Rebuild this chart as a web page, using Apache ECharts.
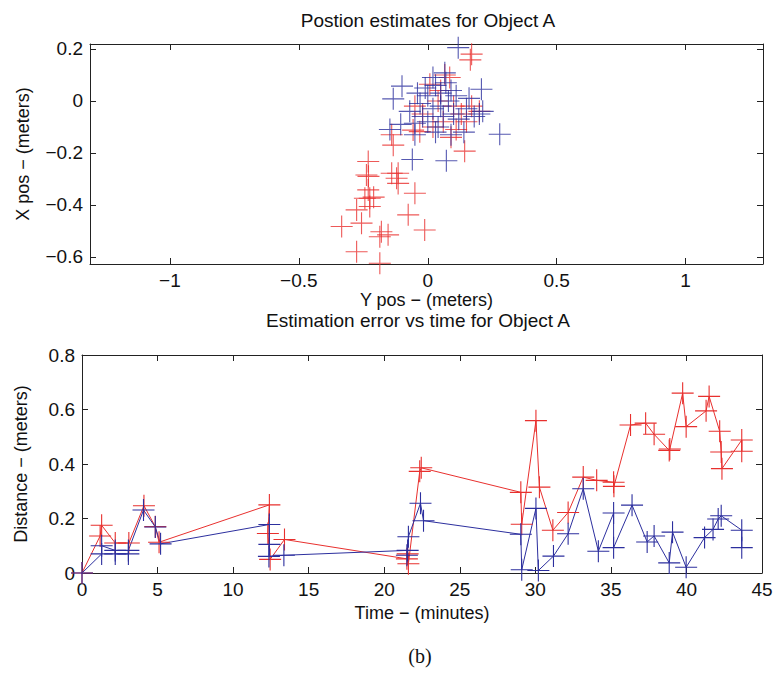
<!DOCTYPE html>
<html>
<head>
<meta charset="utf-8">
<script src="https://cdn.jsdelivr.net/npm/echarts@6/dist/echarts.min.js"></script>
<style>
html, body { margin: 0; background: #fff; }
#main { width: 775px; height: 677px; }
</style>
</head>
<body>
<div id="main"></div>
<script>
// position estimates [Y pos, X pos]
const redPos = [
    [0.17, 0.18], [0.165, 0.158], [0.066, 0.10], [0.085, 0.09], [0.008, 0.064], [0.2, -0.04],
    [0.143, -0.193], [-0.231, -0.233], [-0.14, -0.13], [-0.134, -0.17], [-0.057, -0.112], [-0.031, -0.118],
    [-0.14, -0.278], [-0.115, -0.278], [-0.121, -0.297], [-0.115, -0.317], [-0.05, -0.355], [-0.231, -0.342],
    [-0.225, -0.374], [-0.244, -0.374], [-0.225, -0.406], [-0.276, -0.419], [-0.076, -0.438], [-0.334, -0.483],
    [-0.257, -0.47], [-0.012, -0.496], [-0.18, -0.503], [-0.154, -0.515], [-0.186, -0.522], [-0.276, -0.58],
    [-0.186, -0.624], [-0.238, -0.285], [0.04, 0.0], [0.1, -0.02], [0.06, -0.08], [0.13, -0.05],
    [-0.02, -0.05], [0.02, -0.1], [0.11, -0.11], [0.15, -0.08], [0.05, 0.04], [-0.05, -0.02],
    [0.09, -0.14], [0.17, -0.02], [-0.23, -0.29], [-0.21, -0.37]
];
const bluePos = [
    [0.118, 0.205], [-0.10, 0.057], [-0.134, 0.008], [0.208, 0.045], [0.213, -0.04], [0.279, -0.128],
    [0.072, -0.23], [-0.06, -0.225], [-0.147, -0.11], [-0.105, -0.09], [-0.05, -0.086], [0.066, 0.108],
    [0.03, 0.06], [0.0, 0.02], [-0.03, -0.01], [0.02, -0.03], [0.05, -0.02], [0.08, 0.0],
    [0.1, -0.05], [0.06, -0.06], [-0.02, -0.06], [0.0, -0.08], [0.04, -0.1], [0.12, -0.07],
    [0.15, -0.03], [0.09, 0.04], [-0.04, 0.03], [-0.07, -0.04], [0.03, -0.12], [0.14, -0.12],
    [0.18, -0.06], [0.11, 0.02], [0.07, 0.07], [-0.01, 0.05], [0.05, 0.03], [-0.05, -0.13],
    [0.09, -0.13], [0.2, -0.05], [0.16, 0.01], [0.02, 0.09]
];

// estimation error [minutes, meters]
const redErr = [
    [0, 0], [1.2, 0.136], [1.3, 0.175], [2.2, 0.11], [3.1, 0.11], [4.1, 0.247], [4.85, 0.17], [5.1, 0.113],
    [12.4, 0.25], [12.3, 0.145], [12.45, 0.05], [13.4, 0.123], [21.5, 0.052], [21.55, 0.07], [21.6, 0.034],
    [22.35, 0.373], [22.45, 0.386], [29.04, 0.296], [29.1, 0.179], [30.04, 0.559], [30.27, 0.315],
    [31.16, 0.157], [32.17, 0.222], [33.17, 0.352], [34.06, 0.34], [35.18, 0.333], [35.2, 0.318],
    [36.3, 0.543], [37.3, 0.55], [37.86, 0.509], [38.86, 0.45], [38.9, 0.455], [39.75, 0.66],
    [39.98, 0.537], [41.3, 0.595], [41.5, 0.648], [42.2, 0.52], [42.3, 0.444], [42.35, 0.383],
    [43.66, 0.488], [43.66, 0.447]
];
const blueErr = [
    [0, 0], [1.3, 0.07], [1.3, 0.10], [2.2, 0.083], [2.2, 0.07], [3.07, 0.07], [3.07, 0.083], [4.07, 0.231],
    [4.85, 0.169], [5.2, 0.107], [12.4, 0.178], [12.4, 0.105], [12.37, 0.061], [13.36, 0.065], [21.55, 0.083],
    [21.5, 0.065], [21.6, 0.133], [22.4, 0.256], [22.6, 0.192], [29.04, 0.142], [29.1, 0.012], [30.04, 0.237],
    [30.2, 0.009], [31.2, 0.062], [32.17, 0.144], [33.17, 0.309], [34.17, 0.08], [35.18, 0.22], [35.18, 0.093],
    [36.4, 0.249], [37.4, 0.114], [37.86, 0.136], [38.86, 0.037], [39.08, 0.15], [39.98, 0.021], [41.2, 0.13],
    [41.76, 0.16], [42.1, 0.198], [42.3, 0.21], [43.66, 0.157], [43.66, 0.093]
];

const posXTicks = [-1, -0.5, 0, 0.5, 1];
const posYTicks = [-0.6, -0.4, -0.2, 0, 0.2];

const RED = '#e8302e';
const BLUE = '#2c2f9e';
const FONT = 'Liberation Sans';
// thin "+" marker
const plus = 'path://M0,11.4 L24,11.4 L24,12.6 L0,12.6 Z M11.4,0 L12.6,0 L12.6,24 L11.4,24 Z';

const minus = v => String(v).replace('-', '\u2212');

function axis(gridIndex, position, min, max, ticks, interval, name, nameGap) {
    const a = {
        type: 'value',
        gridIndex,
        position,
        min,
        max,
        axisLine: { show: true, onZero: false, lineStyle: { color: '#222', width: 1 } },
        axisTick: { show: true, inside: true, length: 6, lineStyle: { color: '#222' } },
        axisLabel: { show: !!name, margin: 7, color: '#111', fontFamily: FONT, fontSize: 19, formatter: minus },
        splitLine: { show: false }
    };
    if (ticks) {
        a.axisTick.customValues = ticks;
        a.axisLabel.customValues = ticks;
    } else {
        a.interval = interval;
    }
    if (name) {
        a.name = name;
        a.nameLocation = 'middle';
        a.nameGap = nameGap;
        a.nameTextStyle = { color: '#111', fontFamily: FONT, fontSize: 18 };
    }
    return a;
}

const myChart = echarts.init(document.getElementById('main'), null, { renderer: 'svg' });
myChart.setOption({
    animation: false,
    backgroundColor: '#fff',
    grid: [
        { left: 90, top: 44, width: 673, height: 220, outerBoundsMode: 'none' },
        { left: 82, top: 355, width: 680, height: 218, outerBoundsMode: 'none' }
    ],
    graphic: [
        { type: 'text', x: 428, y: 20, style: { text: 'Postion estimates for Object A', fill: '#111', font: '19px "Liberation Sans"', textAlign: 'center', textVerticalAlign: 'middle' } },
        { type: 'text', x: 418, y: 320, style: { text: 'Estimation error vs time for Object A', fill: '#111', font: '19px "Liberation Sans"', textAlign: 'center', textVerticalAlign: 'middle' } },
        { type: 'text', x: 420, y: 656, style: { text: '(b)', fill: '#111', font: '20px "Liberation Serif"', textAlign: 'center', textVerticalAlign: 'middle' } }
    ],
    xAxis: [
        axis(0, 'bottom', -1.31, 1.30, posXTicks, null, 'Y pos \u2212 (meters)', 25),
        axis(0, 'top', -1.31, 1.30, posXTicks, null),
        axis(1, 'bottom', 0, 45, null, 5, 'Time \u2212 (minutes)', 31),
        axis(1, 'top', 0, 45, null, 5)
    ],
    yAxis: [
        axis(0, 'left', -0.627, 0.219, posYTicks, null, 'X pos \u2212 (meters)', 58),
        axis(0, 'right', -0.627, 0.219, posYTicks, null),
        axis(1, 'left', 0, 0.8, null, 0.2, 'Distance \u2212 (meters)', 52),
        axis(1, 'right', 0, 0.8, null, 0.2)
    ],
    series: [
        { type: 'scatter', xAxisIndex: 0, yAxisIndex: 0, data: redPos, symbol: plus, symbolSize: 22, itemStyle: { color: RED } },
        { type: 'scatter', xAxisIndex: 0, yAxisIndex: 0, data: bluePos, symbol: plus, symbolSize: 22, itemStyle: { color: BLUE } },
        { type: 'line', xAxisIndex: 2, yAxisIndex: 2, data: redErr, symbol: plus, symbolSize: 22, showAllSymbol: true,
          lineStyle: { color: RED, width: 1 }, itemStyle: { color: RED } },
        { type: 'line', xAxisIndex: 2, yAxisIndex: 2, data: blueErr, symbol: plus, symbolSize: 22, showAllSymbol: true,
          lineStyle: { color: BLUE, width: 1 }, itemStyle: { color: BLUE } }
    ]
});
</script>
</body>
</html>
